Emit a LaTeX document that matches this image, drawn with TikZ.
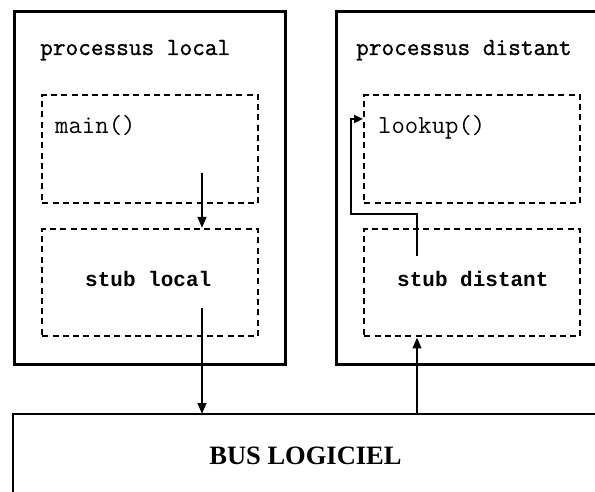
\documentclass[tikz,border=0pt]{standalone}
\usepackage{fontspec}
\setmainfont{Liberation Serif}
\newfontfamily\monofont{Liberation Mono}
\newfontfamily\typefont[AutoFakeBold=1.2]{Latin Modern Mono}
\usetikzlibrary{arrows.meta,calc}

\begin{document}
\begin{tikzpicture}[x=1pt,y=-1pt,
  frame/.style={draw,line width=2.8pt,inner sep=0pt,anchor=north west},
  dbox/.style={draw,line width=2.4pt,dash pattern=on 6pt off 4.3pt,inner sep=0pt,anchor=north west},
  arr/.style={line width=2.3pt,line join=miter,-{Triangle[length=11pt,width=8.5pt]}},
  arrsmall/.style={line width=2.3pt,line join=miter,-{Triangle[length=9pt,width=8pt]}},
  lbl/.style={inner sep=0pt,anchor=base west,font=\typefont\bfseries\fontsize{24.6}{28}\selectfont},
  codelbl/.style={inner sep=0pt,anchor=base west,font=\typefont\fontsize{26}{30}\selectfont},
  stublbl/.style={inner sep=0pt,anchor=base west,font=\monofont\bfseries\fontsize{21}{24}\selectfont},
  buslbl/.style={inner sep=0pt,anchor=base,font=\bfseries\fontsize{26.5}{30}\selectfont}]
\useasboundingbox (0,0) rectangle (595,492);

% the two process frames (the distant one runs past the right border)
\node[frame,minimum width=271pt,minimum height=353pt] (procL) at (13,10) {};
\node[frame,minimum width=290pt,minimum height=353pt] (procD) at (335,10) {};

% dashed inner blocks
\node[dbox,minimum width=216pt,minimum height=108pt] (mainB) at (41,94) {};
\node[dbox,minimum width=216pt,minimum height=107pt] (stubL) at (41,228) {};
\node[dbox,minimum width=216pt,minimum height=108pt] (lookB) at (363,94) {};
\node[dbox,minimum width=216pt,minimum height=107pt] (stubD) at (363,228) {};

% software bus (open to the right and bottom)
\node[inner sep=0pt,anchor=north west,minimum width=620pt,minimum height=100pt] (bus) at (13,414) {};
\draw[line width=1.3pt] (bus.north west) -- (bus.north east);
\draw[line width=2.8pt] ([yshift=1.4pt]bus.north west) -- (bus.south west);

% labels
\node[lbl] (tPL) at (40,55) {processus local};
\node[lbl] (tPD) at (356,55) {processus distant};
\node[codelbl] (tMain) at (55,134) {main()};
\node[codelbl] (tLook) at (378,134) {lookup()};
\node[stublbl] (tSL) at (85,286) {stub local};
\node[stublbl] (tSD) at (397,287) {stub distant};
\node[buslbl] (tBus) at (305.5,464) {BUS LOGICIEL};

% call path
\coordinate (a1) at (202,173);
\coordinate (a2) at (202,308);
\coordinate (a3) at (417,0);
\coordinate (r0) at (417,256);
\coordinate (r1) at (417,214);
\coordinate (r2) at (351,214);
\coordinate (r3) at (351,119);

\draw[arr] (a1) -- (a1 |- stubL.north);
\draw[arr] (a2) -- (a2 |- bus.north);
\draw[arr] (a3 |- bus.north) -- (a3 |- stubD.south);
\draw[arrsmall] (r0) -- (r1) -- (r2) -- (r3) -- (lookB.west |- r3);
\end{tikzpicture}
\end{document}
